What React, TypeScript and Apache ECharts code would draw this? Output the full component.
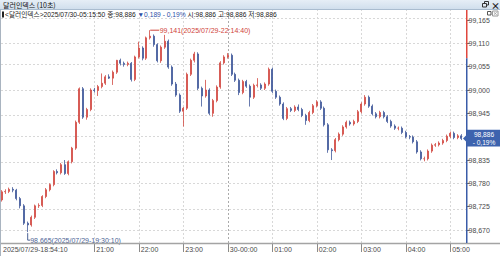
import React, { useEffect, useRef } from 'react';
import * as echarts from 'echarts';

// ---------- data ----------
const TITLE = '달러인덱스 (10초)';
const SYMBOL = '달러인덱스';
const START_STAMP = '2025-07-29T18:54:10';
const LAST_STAMP = '2025-07-30T05:15:50';
const AXIS_END = '2025-07-30T05:21:48';
const CANDLE_START = '2025-07-29T18:55:00';
const CANDLE_STEP_MIN = 5;
const PREV_CLOSE = 99.075;
const LAST_PRICE = 98.886;
const DAY_OPEN = 98.886;
const DAY_HIGH = 98.886;
const DAY_LOW = 98.886;
const HIGH_MARK = { value: 99.141, time: '2025-07-29T22:14:40' };
const LOW_MARK = { value: 98.665, time: '2025-07-29T19:30:10' };
const PRICE_TICKS = [98.67, 98.725, 98.78, 98.835, 98.89, 98.945, 99.0, 99.055, 99.11, 99.165];
const Y_MIN = 98.6394;
const Y_MAX = 99.1886;
const HOUR_TICKS = [
  '2025-07-29T21:00:00', '2025-07-29T22:00:00', '2025-07-29T23:00:00', '2025-07-30T00:00:00',
  '2025-07-30T01:00:00', '2025-07-30T02:00:00', '2025-07-30T03:00:00', '2025-07-30T04:00:00',
  '2025-07-30T05:00:00',
];
// [open, close, low, high] per 5-minute bucket
const OHLC: number[][] = [
  [98.741, 98.760, 98.737, 98.764], [98.760, 98.761, 98.755, 98.766], [98.761, 98.766, 98.757, 98.770],
  [98.766, 98.764, 98.759, 98.771], [98.764, 98.744, 98.740, 98.767], [98.744, 98.727, 98.721, 98.748],
  [98.727, 98.686, 98.682, 98.731], [98.686, 98.682, 98.665, 98.690], [98.682, 98.700, 98.678, 98.704],
  [98.700, 98.727, 98.696, 98.730], [98.727, 98.728, 98.722, 98.733], [98.728, 98.749, 98.724, 98.752],
  [98.749, 98.765, 98.745, 98.769], [98.765, 98.777, 98.761, 98.780], [98.777, 98.808, 98.773, 98.811],
  [98.808, 98.805, 98.801, 98.813], [98.805, 98.824, 98.801, 98.828], [98.824, 98.803, 98.800, 98.835],
  [98.803, 98.831, 98.799, 98.834], [98.831, 98.863, 98.827, 98.866], [98.863, 98.924, 98.859, 98.928],
  [98.924, 99.003, 98.920, 99.006], [99.003, 98.936, 98.932, 99.007], [98.936, 98.954, 98.930, 98.958],
  [98.954, 99.000, 98.950, 99.004], [99.000, 98.999, 98.994, 99.005], [98.999, 99.008, 98.986, 99.012],
  [99.008, 99.016, 99.004, 99.039], [99.016, 99.031, 99.012, 99.035], [99.031, 99.028, 99.026, 99.037],
  [99.028, 99.042, 99.012, 99.046], [99.042, 99.070, 99.038, 99.071], [99.070, 99.063, 99.058, 99.074],
  [99.063, 99.060, 99.055, 99.067], [99.060, 99.063, 99.056, 99.067], [99.063, 99.025, 99.020, 99.066],
  [99.025, 99.078, 99.021, 99.081], [99.078, 99.099, 99.074, 99.114], [99.099, 99.075, 99.070, 99.103],
  [99.075, 99.123, 99.071, 99.126], [99.123, 99.127, 99.119, 99.141], [99.127, 99.107, 99.102, 99.131],
  [99.107, 99.069, 99.065, 99.110], [99.069, 99.101, 99.064, 99.105], [99.101, 99.115, 99.097, 99.130],
  [99.115, 99.054, 99.050, 99.119], [99.054, 99.014, 99.010, 99.058], [99.014, 98.988, 98.984, 99.019],
  [98.988, 98.950, 98.946, 98.992], [98.950, 98.957, 98.914, 98.960], [98.957, 99.037, 98.953, 99.041],
  [99.037, 99.070, 99.033, 99.074], [99.070, 99.085, 99.065, 99.090], [99.085, 99.004, 99.000, 99.089],
  [99.004, 98.986, 98.961, 99.008], [98.986, 99.000, 98.982, 99.024], [99.000, 98.945, 98.941, 99.004],
  [98.945, 98.975, 98.937, 98.979], [98.975, 99.007, 98.971, 99.011], [99.007, 99.064, 99.003, 99.068],
  [99.064, 99.078, 99.060, 99.082], [99.078, 99.082, 99.074, 99.087], [99.082, 99.037, 99.033, 99.086],
  [99.037, 99.023, 99.019, 99.041], [99.023, 98.994, 98.988, 99.027], [98.994, 99.020, 98.990, 99.024],
  [99.020, 99.009, 99.005, 99.024], [99.009, 98.983, 98.961, 99.013], [98.983, 99.011, 98.979, 99.015],
  [99.011, 99.012, 99.006, 99.028], [99.012, 99.004, 99.000, 99.016], [99.004, 99.014, 99.000, 99.018],
  [99.014, 99.049, 99.010, 99.053], [99.049, 98.997, 98.993, 99.053], [98.997, 98.983, 98.979, 99.001],
  [98.983, 98.967, 98.963, 98.987], [98.967, 98.933, 98.929, 98.971], [98.933, 98.956, 98.929, 98.960],
  [98.956, 98.952, 98.948, 98.960], [98.952, 98.960, 98.948, 98.964], [98.960, 98.954, 98.950, 98.966],
  [98.954, 98.940, 98.936, 98.958], [98.940, 98.928, 98.918, 98.944], [98.928, 98.947, 98.924, 98.951],
  [98.947, 98.963, 98.943, 98.967], [98.963, 98.972, 98.959, 98.976], [98.972, 98.957, 98.953, 98.976],
  [98.957, 98.918, 98.914, 98.961], [98.918, 98.859, 98.852, 98.922], [98.859, 98.857, 98.835, 98.863],
  [98.857, 98.883, 98.853, 98.887], [98.883, 98.896, 98.879, 98.900], [98.896, 98.913, 98.892, 98.917],
  [98.913, 98.924, 98.909, 98.928], [98.924, 98.920, 98.916, 98.928], [98.920, 98.926, 98.916, 98.930],
  [98.926, 98.949, 98.922, 98.953], [98.949, 98.967, 98.945, 98.971], [98.967, 98.983, 98.963, 98.988],
  [98.983, 98.962, 98.958, 98.987], [98.962, 98.944, 98.940, 98.966], [98.944, 98.937, 98.933, 98.948],
  [98.937, 98.947, 98.933, 98.951], [98.947, 98.937, 98.933, 98.951], [98.937, 98.926, 98.922, 98.941],
  [98.926, 98.915, 98.911, 98.930], [98.915, 98.910, 98.906, 98.919], [98.910, 98.910, 98.905, 98.914],
  [98.910, 98.900, 98.896, 98.914], [98.900, 98.890, 98.886, 98.904], [98.890, 98.889, 98.884, 98.894],
  [98.889, 98.878, 98.874, 98.893], [98.878, 98.854, 98.850, 98.882], [98.854, 98.838, 98.834, 98.858],
  [98.838, 98.838, 98.832, 98.843], [98.838, 98.856, 98.834, 98.860], [98.856, 98.870, 98.852, 98.874],
  [98.870, 98.871, 98.866, 98.875], [98.871, 98.875, 98.867, 98.879], [98.875, 98.881, 98.871, 98.885],
  [98.881, 98.891, 98.877, 98.895], [98.891, 98.898, 98.887, 98.902], [98.898, 98.888, 98.884, 98.902],
  [98.888, 98.892, 98.884, 98.896], [98.892, 98.886, 98.882, 98.896],
];

// ---------- helpers ----------
const UP = '#d24a42';
const DOWN = '#41599a';
const FAMILY = "'Liberation Sans','Noto Sans CJK KR',sans-serif";
const KR = "'Noto Sans CJK KR','Noto Sans',sans-serif";
const FS = 7;
const FS_INFO = 6.7;
const SMALL = `${FS}px ${FAMILY}`;
const ts = (s: string) => new Date(s).getTime();
const pad2 = (n: number) => String(n).padStart(2, '0');
const fmtPrice = (v: number) => v.toFixed(3).replace('.', ',');
const fmtStamp = (s: string) => {
  const d = new Date(s);
  return `${d.getFullYear()}/${pad2(d.getMonth() + 1)}/${pad2(d.getDate())}-${pad2(d.getHours())}:${pad2(d.getMinutes())}:${pad2(d.getSeconds())}`;
};

export default function App() {
  const ref = useRef<HTMLDivElement>(null);
  useEffect(() => {
    document.body.style.margin = '0';
    if (!ref.current) return;
    const chart = echarts.init(ref.current, undefined, { renderer: 'svg' });
    const startTs = ts(START_STAMP);
    const endTs = ts(AXIS_END);
    const candleStart = ts(CANDLE_START);
    const hourTs = HOUR_TICKS.map(ts);
    const data = OHLC.map((r, i) => [candleStart + i * CANDLE_STEP_MIN * 60000, r[0], r[1], r[2], r[3]]);
    // the label hidden under the current-price box is not drawn
    const labelTicks = PRICE_TICKS.filter((v) => Math.abs(v - LAST_PRICE) > 0.015);

    const gridLines: any[] = [
      ...PRICE_TICKS.map((v) => ({ yAxis: v })),
      ...hourTs.map((t) => {
        const d = new Date(t);
        const midnight = d.getHours() === 0;
        return midnight ? { xAxis: t, lineStyle: { color: '#ababab' } } : { xAxis: t };
      }),
    ];

    const xFormatter = (value: number) => {
      if (Math.abs(value - startTs) < 1000) return fmtStamp(START_STAMP);
      const d = new Date(value);
      if (d.getHours() === 0 && d.getMinutes() === 0) return `${pad2(d.getDate())}-00:00`;
      return `${pad2(d.getHours())}:${pad2(d.getMinutes())}`;
    };

    chart.setOption({
      animation: false,
      grid: { left: 1, right: 33.5, top: 10, bottom: 13 },
      xAxis: {
        type: 'value',
        min: startTs,
        max: endTs,
        axisLine: { show: false },
        splitLine: { show: false },
        axisTick: { show: true, length: 9, customValues: hourTs, lineStyle: { color: '#8a8a8a' } },
        axisLabel: {
          customValues: [startTs, ...hourTs],
          formatter: xFormatter,
          align: 'left',
          padding: [0, 0, 0, 2],
          margin: 2.5,
          color: '#4a4a4a',
          fontSize: FS,
          fontFamily: FAMILY,
        },
      },
      yAxis: {
        type: 'value',
        position: 'right',
        min: Y_MIN,
        max: Y_MAX,
        axisLine: { show: false },
        splitLine: { show: false },
        axisTick: { show: true, length: 3, customValues: labelTicks, lineStyle: { color: '#666' } },
        axisLabel: {
          customValues: labelTicks,
          formatter: (v: number) => fmtPrice(v),
          color: '#4a4a4a',
          fontSize: FS,
          fontFamily: FAMILY,
          margin: 2,
        },
      },
      series: [
        {
          type: 'candlestick',
          data,
          barWidth: 1.5,
          clip: false,
          itemStyle: { color: UP, color0: DOWN, borderColor: UP, borderColor0: DOWN, borderWidth: 0.8 },
          markLine: {
            silent: true,
            z: 1,
            animation: false,
            symbol: ['none', 'none'],
            label: { show: false },
            lineStyle: { type: [2, 2], color: '#d8d8d8', width: 1 },
            data: gridLines,
          },
        },
      ],
    });

    // overlays positioned through the chart's own scales
    const px = (t: number, v: number) => chart.convertToPixel({ gridIndex: 0 }, [t, v]) as number[];
    const xRight = px(endTs, Y_MIN)[0];
    const yTop = px(startTs, Y_MAX)[1];
    const yBottom = px(startTs, Y_MIN)[1];
    const yPrev = px(startTs, PREV_CLOSE)[1];
    const lastY = px(startTs, LAST_PRICE)[1];
    const [hx, hy] = px(ts(HIGH_MARK.time), HIGH_MARK.value);
    const [lx, ly] = px(ts(LOW_MARK.time), LOW_MARK.value);

    const change = LAST_PRICE - PREV_CLOSE;
    const pct = (Math.abs(change) / PREV_CLOSE) * 100;
    const changeStr = `${change < 0 ? '▼' : '▲'}${Math.abs(change).toFixed(3).replace('.', ',')}`;
    const pctStr = `${change < 0 ? '-' : '+'} ${pct.toFixed(2).replace('.', ',')}%`;

    const info =
      `{k|<${SYMBOL}>${fmtStamp(LAST_STAMP)} 종:${fmtPrice(LAST_PRICE)} }` +
      `{dn|${changeStr} ${pctStr}}` +
      `{k| 시:${fmtPrice(DAY_OPEN)} 고:${fmtPrice(DAY_HIGH)} 저:${fmtPrice(DAY_LOW)}}`;

    chart.setOption({
      graphic: [
        // title bar
        {
          type: 'rect', z: 100, shape: { x: 0, y: 0, width: 500, height: 9.5 },
          style: {
            fill: new echarts.graphic.LinearGradient(0, 0, 0, 1, [
              { offset: 0, color: '#e6eef6' },
              { offset: 1, color: '#cfdeec' },
            ]),
          },
        },
        { type: 'line', z: 101, shape: { x1: 0, y1: 9.5, x2: 500, y2: 9.5 }, style: { stroke: '#a9bccf', lineWidth: 1 } },
        { type: 'text', z: 102, x: 3, y: 5, style: { text: TITLE, font: `7px ${KR}`, fill: '#111', verticalAlign: 'middle' } },
        // window icons
        { type: 'rect', z: 102, shape: { x: 484.5, y: 1.5, width: 4, height: 3.5 }, style: { fill: 'none', stroke: '#333', lineWidth: 1 } },
        { type: 'rect', z: 102, shape: { x: 482.5, y: 3.5, width: 4, height: 3.5 }, style: { fill: '#dfe8f1', stroke: '#333', lineWidth: 1 } },
        { type: 'text', z: 102, x: 495.5, y: 5, style: { text: '×', font: `bold 9px ${KR}`, fill: '#222', align: 'center', verticalAlign: 'middle' } },
        { type: 'rect', z: 102, shape: { x: 487.5, y: 11.5, width: 3.5, height: 3.5 }, style: { fill: '#fff', stroke: '#555', lineWidth: 1 } },
        { type: 'rect', z: 102, shape: { x: 492.5, y: 11, width: 5.5, height: 5 }, style: { fill: '#fff', stroke: '#9a9a9a', lineWidth: 1 } },
        { type: 'line', z: 103, shape: { x1: 493.8, y1: 12.2, x2: 496.8, y2: 14.8 }, style: { stroke: '#9a9a9a', lineWidth: 0.8 } },
        { type: 'line', z: 103, shape: { x1: 496.8, y1: 12.2, x2: 493.8, y2: 14.8 }, style: { stroke: '#9a9a9a', lineWidth: 0.8 } },
        // left border
        { type: 'line', z: 101, shape: { x1: 0.5, y1: 9.5, x2: 0.5, y2: 256 }, style: { stroke: '#a9b4c0', lineWidth: 1 } },
        // info line
        { type: 'rect', z: 102, shape: { x: 2, y: 11.5, width: 2, height: 6 }, style: { fill: '#222' } },
        {
          type: 'text', z: 102, x: 5, y: 14.5,
          style: {
            text: info,
            fontSize: FS_INFO,
            fontFamily: FAMILY,
            verticalAlign: 'middle',
            rich: {
              k: { fontSize: FS_INFO, fontFamily: FAMILY, fill: '#222' },
              dn: { fontSize: FS_INFO, fontFamily: FAMILY, fill: '#2c4fa6' },
            },
          },
        },
        // price axis line: red above previous close, blue below
        { type: 'line', z: 50, shape: { x1: xRight + 0.25, y1: yTop, x2: xRight + 0.25, y2: yPrev }, style: { stroke: '#e0473d', lineWidth: 1.5 } },
        { type: 'line', z: 50, shape: { x1: xRight + 0.25, y1: yPrev, x2: xRight + 0.25, y2: yBottom }, style: { stroke: '#3a5ca8', lineWidth: 1.5 } },
        // time axis separator
        { type: 'line', z: 49, shape: { x1: 0, y1: yBottom + 0.5, x2: 500, y2: yBottom + 0.5 }, style: { stroke: '#a4a4a4', lineWidth: 1.5 } },
        // current price box
        {
          type: 'polygon', z: 60,
          shape: { points: [[xRight - 3.5, lastY], [xRight + 0.5, lastY - 4], [xRight + 0.5, lastY + 4]] },
          style: { fill: '#3d63ae' },
        },
        { type: 'rect', z: 60, shape: { x: xRight + 0.5, y: lastY - 8.7, width: 34, height: 16.7 }, style: { fill: '#3d63ae' } },
        {
          type: 'text', z: 61, x: xRight + 17.5, y: lastY - 4.3,
          style: { text: fmtPrice(LAST_PRICE), font: `6.6px ${FAMILY}`, fill: '#fff', align: 'center', verticalAlign: 'middle' },
        },
        {
          type: 'text', z: 61, x: xRight + 17.5, y: lastY + 4.0,
          style: { text: pctStr, font: `6.6px ${FAMILY}`, fill: '#fff', align: 'center', verticalAlign: 'middle' },
        },
        // high annotation
        { type: 'line', z: 40, shape: { x1: hx + 0.5, y1: hy, x2: hx + 9.5, y2: hy }, style: { stroke: '#d0443a', lineWidth: 1 } },
        {
          type: 'text', z: 40, x: hx + 10, y: hy + 0.5,
          style: { text: `${fmtPrice(HIGH_MARK.value)}(${fmtStamp(HIGH_MARK.time)})`, font: SMALL, fill: '#d0443a', verticalAlign: 'middle' },
        },
        // low annotation
        {
          type: 'polyline', z: 40,
          shape: { points: [[lx, ly + 1], [lx, ly + 8], [lx + 2.5, ly + 8]] },
          style: { stroke: '#4a6294', lineWidth: 1, fill: 'none' },
        },
        {
          type: 'text', z: 40, x: lx + 2.5, y: ly + 8,
          style: { text: `${fmtPrice(LOW_MARK.value)}(${fmtStamp(LOW_MARK.time)})`, font: SMALL, fill: '#4a6294', verticalAlign: 'middle' },
        },
      ],
    });

    return () => chart.dispose();
  }, []);
  return <div ref={ref} style={{ width: 500, height: 256, background: '#fff' }} />;
}
